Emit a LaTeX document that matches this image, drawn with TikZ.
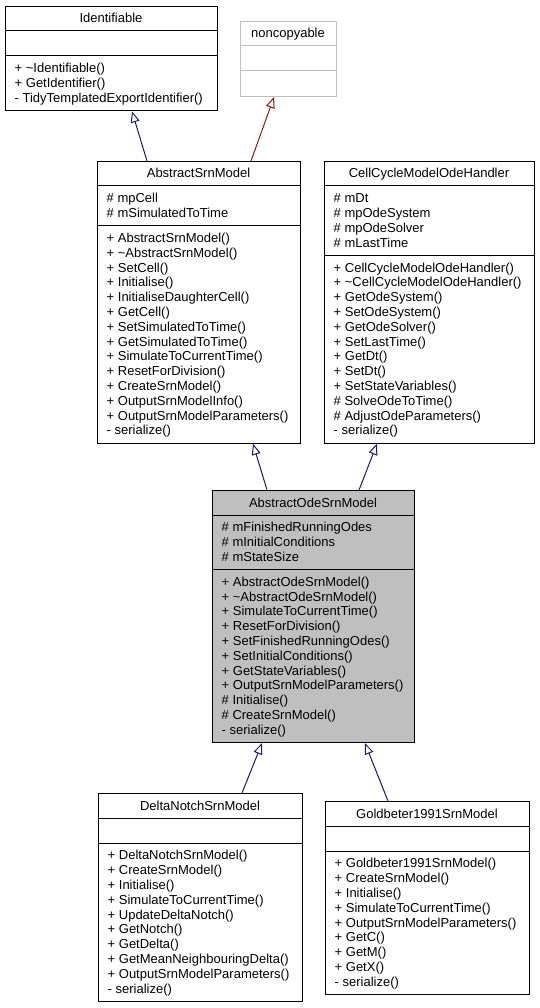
\documentclass[tikz,border=0pt]{standalone}
\usepackage{fontspec}
\setmainfont{Liberation Sans}
\usetikzlibrary{arrows.meta}
\definecolor{edgeblue}{HTML}{191970}
\definecolor{edgered}{HTML}{8B1A1A}
\definecolor{boxgray}{HTML}{BFBFBF}
\tikzset{
  classbox/.style={draw=black, line width=1pt, fill=white, inner sep=0pt, anchor=north west},
  sepline/.style={line width=1pt},
  txt/.style={inner sep=0pt, font=\fontsize{13}{14.8}\selectfont, text=black},
  inherit/.style={line width=1pt, draw=edgeblue, -{Triangle[open,length=11pt,width=9pt]}},
  inheritred/.style={inherit, draw=edgered},
}
% #1 name, #2 L, #3 T, #4 W, #5 sep1, #6 sep2, #7 bottom, #8 style, #9 title
\newcommand\umlclass[9]{%
  \node[classbox, #8, minimum width=#4pt, minimum height={(#7-(#3))*1pt}] (#1) at (#2,#3) {};
  \draw[sepline, #8] (#2,#5) -- (#2+#4,#5);
  \draw[sepline, #8] (#2,#6) -- (#2+#4,#6);
  \node[txt, anchor=base] (#1-title) at (#2+#4/2, #3+17) {#9};
}
% #1 prefix, #2 x, #3 first baseline, #4 list
\newcommand\memberlist[4]{%
  \foreach \t [count=\i] in {#4} {
    \node[txt, anchor=base west] (#1-\i) at (#2, #3+14.8*\i-14.8) {\t};
  }%
}
\begin{document}
\begin{tikzpicture}[x=1pt,y=-1pt]
\useasboundingbox[fill=white] (0,0) rectangle (540,1008);

% Identifiable
\umlclass{ident}{5}{6}{212}{31}{56}{110.4}{}{Identifiable}
\memberlist{identm}{14.5}{72.8}{+ \textasciitilde Identifiable(), + GetIdentifier(), - TidyTemplatedExportIdentifier()}

% noncopyable
\umlclass{nonc}{240}{21}{96}{46}{71}{96}{draw=boxgray}{noncopyable}

% AbstractSrnModel
\umlclass{asm}{97}{161}{203}{186}{225.6}{442.8}{}{AbstractSrnModel}
\memberlist{asma}{106.5}{202.8}{\# mpCell, \# mSimulatedToTime}
\memberlist{asmm}{106.5}{242.4}{+ AbstractSrnModel(), + \textasciitilde AbstractSrnModel(), + SetCell(), + Initialise(), + InitialiseDaughterCell(), + GetCell(), + SetSimulatedToTime(), + GetSimulatedToTime(), + SimulateToCurrentTime(), + ResetForDivision(), + CreateSrnModel(), + OutputSrnModelInfo(), + OutputSrnModelParameters(), - serialize()}

% CellCycleModelOdeHandler
\umlclass{ccm}{324}{161}{210}{186}{255.2}{442.8}{}{CellCycleModelOdeHandler}
\memberlist{ccma}{333.5}{202.8}{\# mDt, \# mpOdeSystem, \# mpOdeSolver, \# mLastTime}
\memberlist{ccmm}{333.5}{272}{+ CellCycleModelOdeHandler(), + \textasciitilde CellCycleModelOdeHandler(), + GetOdeSystem(), + SetOdeSystem(), + GetOdeSolver(), + SetLastTime(), + GetDt(), + SetDt(), + SetStateVariables(), \# SolveOdeToTime(), \# AdjustOdeParameters(), - serialize()}

% AbstractOdeSrnModel
\umlclass{aode}{212}{490}{202}{515}{569.4}{742.2}{fill=boxgray}{AbstractOdeSrnModel}
\memberlist{aodea}{221.5}{531.8}{\# mFinishedRunningOdes, \# mInitialConditions, \# mStateSize}
\memberlist{aodem}{221.5}{586.2}{+ AbstractOdeSrnModel(), + \textasciitilde AbstractOdeSrnModel(), + SimulateToCurrentTime(), + ResetForDivision(), + SetFinishedRunningOdes(), + SetInitialConditions(), + GetStateVariables(), + OutputSrnModelParameters(), \# Initialise(), \# CreateSrnModel(), - serialize()}

% DeltaNotchSrnModel
\umlclass{dn}{98}{793}{204}{818}{843}{1001}{}{DeltaNotchSrnModel}
\memberlist{dnm}{107.5}{859.8}{+ DeltaNotchSrnModel(), + CreateSrnModel(), + Initialise(), + SimulateToCurrentTime(), + UpdateDeltaNotch(), + GetNotch(), + GetDelta(), + GetMeanNeighbouringDelta(), + OutputSrnModelParameters(), - serialize()}

% Goldbeter1991SrnModel
\umlclass{gb}{325}{801}{204}{826}{851}{994.2}{}{Goldbeter1991SrnModel}
\memberlist{gbm}{334.5}{867.8}{+ Goldbeter1991SrnModel(), + CreateSrnModel(), + Initialise(), + SimulateToCurrentTime(), + OutputSrnModelParameters(), + GetC(), + GetM(), + GetX(), - serialize()}

% inheritance connectors
\draw[inherit] ([xshift=50pt]asm.north west) -- ([xshift=127pt]ident.south west);
\draw[inheritred] ([xshift=154pt]asm.north west) -- ([xshift=34pt]nonc.south west);
\draw[inherit] ([xshift=55pt]aode.north west) -- ([xshift=156pt]asm.south west);
\draw[inherit] ([xshift=147pt]aode.north west) -- ([xshift=53pt]ccm.south west);
\draw[inherit] ([xshift=144pt]dn.north west) -- ([xshift=50pt]aode.south west);
\draw[inherit] ([xshift=63pt]gb.north west) -- ([xshift=153pt]aode.south west);
\end{tikzpicture}
\end{document}
